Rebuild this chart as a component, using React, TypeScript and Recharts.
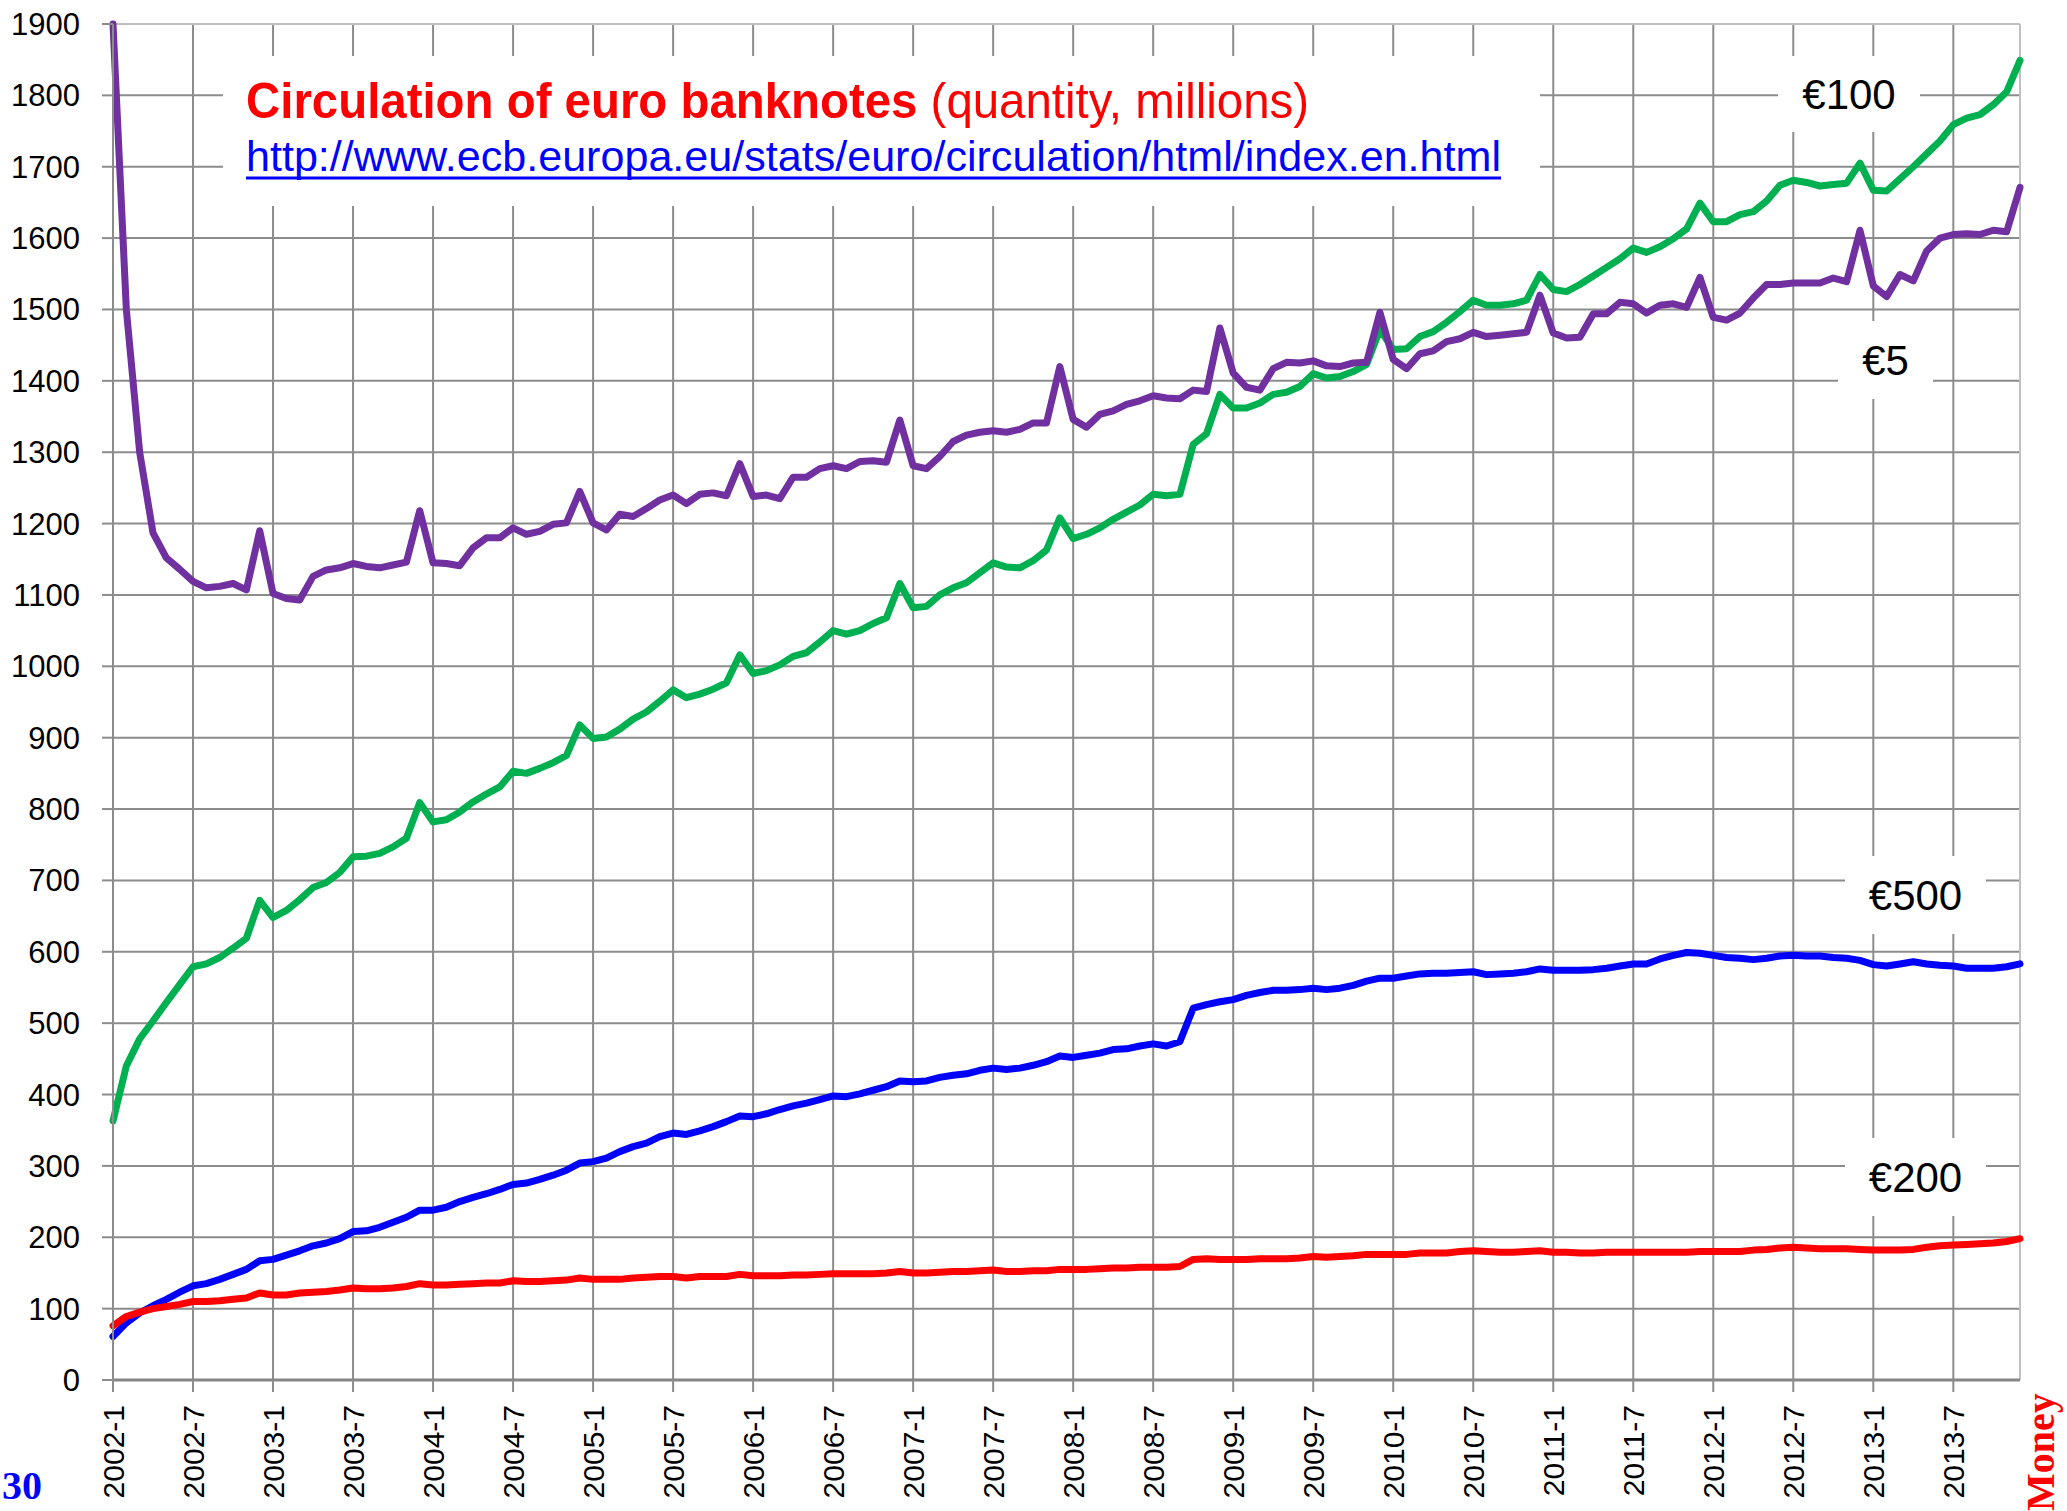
import React from 'react'
import { LineChart, Line, XAxis, YAxis, CartesianGrid, ReferenceLine } from 'recharts'

// monthly series, 2002-1 .. 2013-12 (millions of notes), one row per year
const eur5 = [
  1900, 1500, 1300, 1187, 1152, 1136, 1119, 1110, 1112, 1116, 1107, 1190,
  1102, 1095, 1093, 1126, 1135, 1138, 1144, 1140, 1138, 1142, 1146, 1218,
  1145, 1144, 1141, 1166, 1180, 1180, 1194, 1185, 1189, 1199, 1201, 1245,
  1201, 1191, 1213, 1210, 1221, 1233, 1240, 1228, 1241, 1243, 1239, 1284,
  1238, 1240, 1235, 1265, 1265, 1277, 1281, 1277, 1287, 1288, 1286, 1345,
  1281, 1277, 1294, 1315, 1324, 1328, 1330, 1328, 1332, 1341, 1341, 1420,
  1346, 1335, 1353, 1358, 1367, 1372, 1379, 1376, 1375, 1387, 1385, 1474,
  1411, 1391, 1387, 1417, 1426, 1425, 1428, 1421, 1420, 1425, 1426, 1496,
  1430, 1417, 1438, 1442, 1455, 1459, 1468, 1462, 1464, 1466, 1468, 1520,
  1467, 1460, 1461, 1494, 1494, 1510, 1508, 1495, 1506, 1508, 1503, 1545,
  1489, 1485, 1495, 1516, 1535, 1535, 1537, 1537, 1537, 1544, 1539, 1611,
  1533, 1518, 1549, 1540, 1582, 1600, 1605, 1606, 1605, 1611, 1609, 1671,
]

const eur100 = [
  363, 440, 478, 503, 529, 554, 579, 583, 592, 605, 619, 672,
  648, 658, 673, 690, 697, 711, 733, 734, 738, 747, 759, 809,
  782, 785, 796, 810, 821, 831, 853, 850, 857, 865, 875, 918,
  899, 901, 912, 926, 936, 951, 967, 956, 961, 968, 977, 1016,
  990, 994, 1002, 1014, 1019, 1034, 1050, 1045, 1050, 1060, 1068, 1116,
  1082, 1084, 1100, 1110, 1117, 1131, 1145, 1139, 1138, 1148, 1163, 1208,
  1179, 1185, 1194, 1206, 1216, 1226, 1241, 1239, 1241, 1311, 1326, 1381,
  1362, 1362, 1369, 1381, 1384, 1392, 1410, 1404, 1406, 1413, 1423, 1472,
  1444, 1445, 1462, 1469, 1482, 1497, 1513, 1506, 1506, 1508, 1513, 1549,
  1528, 1525, 1535, 1547, 1559, 1571, 1586, 1580, 1588, 1599, 1613, 1649,
  1623, 1623, 1633, 1637, 1652, 1674, 1681, 1678, 1673, 1675, 1677, 1705,
  1667, 1666, 1683, 1700, 1718, 1736, 1759, 1768, 1773, 1787, 1805, 1849,
]

const eur500 = [
  61, 80, 94, 104, 113, 123, 132, 135, 141, 148, 155, 167,
  169, 175, 181, 188, 192, 198, 208, 209, 214, 221, 228, 238,
  238, 242, 250, 256, 261, 267, 274, 276, 281, 287, 294, 304,
  306, 311, 320, 327, 332, 341, 346, 344, 349, 355, 362, 370,
  369, 373, 379, 384, 388, 393, 398, 397, 401, 406, 411, 419,
  418, 419, 424, 427, 429, 434, 437, 435, 437, 441, 446, 454,
  452, 455, 458, 463, 464, 468, 471, 468, 474, 521, 526, 530,
  533, 539, 543, 546, 546, 547, 549, 547, 549, 553, 559, 563,
  563, 566, 569, 570, 570, 571, 572, 568, 569, 570, 572, 576,
  574, 574, 574, 575, 577, 580, 583, 583, 590, 595, 599, 598,
  595, 592, 591, 589, 591, 594, 595, 594, 594, 592, 591, 588,
  582, 580, 583, 586, 583, 581, 580, 577, 577, 577, 579, 583,
]

const eur200 = [
  76, 89, 95, 100, 103, 106, 110, 110, 111, 113, 115, 122,
  119, 119, 122, 123, 124, 126, 129, 128, 128, 129, 131, 135,
  133, 133, 134, 135, 136, 136, 139, 138, 138, 139, 140, 143,
  141, 141, 141, 143, 144, 145, 145, 143, 145, 145, 145, 148,
  146, 146, 146, 147, 147, 148, 149, 149, 149, 149, 150, 152,
  150, 150, 151, 152, 152, 153, 154, 152, 152, 153, 153, 155,
  155, 155, 156, 157, 157, 158, 158, 158, 159, 169, 170, 169,
  169, 169, 170, 170, 170, 171, 173, 172, 173, 174, 176, 176,
  176, 176, 178, 178, 178, 180, 181, 180, 179, 179, 180, 181,
  179, 179, 178, 178, 179, 179, 179, 179, 179, 179, 179, 180,
  180, 180, 180, 182, 183, 185, 186, 185, 184, 184, 184, 183,
  182, 182, 182, 183, 186, 188, 189, 190, 191, 192, 194, 198,
]

const years = [2002, 2003, 2004, 2005, 2006, 2007, 2008, 2009, 2010, 2011, 2012, 2013]
const months = years.flatMap((y) => Array.from({ length: 12 }, (_, i) => `${y}-${i + 1}`))

const xTicks = [
  '2002-1', '2002-7', '2003-1', '2003-7', '2004-1', '2004-7', '2005-1', '2005-7',
  '2006-1', '2006-7', '2007-1', '2007-7', '2008-1', '2008-7', '2009-1', '2009-7',
  '2010-1', '2010-7', '2011-1', '2011-7', '2012-1', '2012-7', '2013-1', '2013-7',
]
const yTicks = [0, 100, 200, 300, 400, 500, 600, 700, 800, 900, 1000, 1100, 1200, 1300, 1400, 1500, 1600, 1700, 1800, 1900]

const data = months.map((month, i) => ({
  month,
  e5: eur5[i],
  e100: eur100[i],
  e500: eur500[i],
  e200: eur200[i],
}))

const FONT = '"Liberation Sans", Arial, sans-serif'
const SERIF = '"Liberation Serif", "Times New Roman", serif'
const GRID = '#8c8c8c'
const LW = 7

function XTick({ x, y, payload }: any) {
  return (
    <g transform={`translate(${x},${y + 13})`}>
      <text transform="rotate(-90)" textAnchor="end" dy="0.35em" fontSize={30} fontFamily={FONT} fill="#000">
        {payload.value}
      </text>
    </g>
  )
}

function SeriesLabel({ x, y, w, h, text }: { x: number; y: number; w: number; h: number; text: string }) {
  return (
    <g>
      <rect x={x} y={y} width={w} height={h} fill="#fff" />
      <text x={x + w / 2} y={y + h / 2} dy="0.35em" textAnchor="middle" fontSize={42} fontFamily={FONT} fill="#000">
        {text}
      </text>
    </g>
  )
}

export default function App() {
  return (
    <div style={{ position: 'absolute', left: 0, top: 0, width: 2067, height: 1511, background: '#fff', overflow: 'hidden' }}>
      <LineChart width={2067} height={1511} data={data} margin={{ top: 24, right: 47, left: 13, bottom: 11 }}>
        <CartesianGrid stroke={GRID} strokeWidth={2} />
        <XAxis
          dataKey="month"
          ticks={xTicks}
          interval={0}
          height={120}
          tickSize={12}
          tickMargin={0}
          tick={<XTick />}
          axisLine={{ stroke: '#868686', strokeWidth: 3 }}
          tickLine={{ stroke: GRID, strokeWidth: 2 }}
        />
        <YAxis
          type="number"
          domain={[0, 1900]}
          ticks={yTicks}
          interval={0}
          width={100}
          tickSize={11}
          tickMargin={22}
          tick={{ fontSize: 31, fontFamily: FONT, fill: '#000' }}
          axisLine={{ stroke: GRID, strokeWidth: 2 }}
          tickLine={{ stroke: GRID, strokeWidth: 2 }}
        />
        <ReferenceLine x={months[months.length - 1]} stroke="#c0c0c0" strokeWidth={2} />
        <ReferenceLine y={1900} stroke="#c0c0c0" strokeWidth={2} />
        <Line dataKey="e100" stroke="#00B050" strokeWidth={LW} dot={false} activeDot={false} strokeLinejoin="round" strokeLinecap="round" isAnimationActive={false} />
        <Line dataKey="e500" stroke="#0000FF" strokeWidth={LW} dot={false} activeDot={false} strokeLinejoin="round" strokeLinecap="round" isAnimationActive={false} />
        <Line dataKey="e200" stroke="#FF0000" strokeWidth={LW} dot={false} activeDot={false} strokeLinejoin="round" strokeLinecap="round" isAnimationActive={false} />
        <Line dataKey="e5" stroke="#7030A0" strokeWidth={LW} dot={false} activeDot={false} strokeLinejoin="round" strokeLinecap="round" isAnimationActive={false} />
      </LineChart>

      <svg width={2067} height={1511} style={{ position: 'absolute', left: 0, top: 0, pointerEvents: 'none' }}>
        <rect x={223} y={56} width={1317} height={150} fill="#fff" />
        <text x={246} y={118} fontSize={50} fontFamily={FONT} fill="#FF0000" textLength={1063} lengthAdjust="spacingAndGlyphs">
          <tspan fontWeight="bold">Circulation of euro banknotes </tspan>
          <tspan>(quantity, millions)</tspan>
        </text>
        <text x={246} y={171} fontSize={43} fontFamily={FONT} fill="#0000FF" textLength={1255} lengthAdjust="spacingAndGlyphs">
          http://www.ecb.europa.eu/stats/euro/circulation/html/index.en.html
        </text>
        <line x1={246} x2={1501} y1={178} y2={178} stroke="#0000FF" strokeWidth={3} />

        <SeriesLabel x={1778} y={56} w={142} h={76} text="€100" />
        <SeriesLabel x={1838} y={321} w={95} h={78} text="€5" />
        <SeriesLabel x={1845} y={856} w={141} h={78} text="€500" />
        <SeriesLabel x={1845} y={1138} w={141} h={78} text="€200" />

        <text x={2} y={1499} fontSize={40} fontFamily={SERIF} fontWeight="bold" fill="#0000FF">
          30
        </text>
        <g transform="translate(2054,1511)">
          <text transform="rotate(-90)" fontSize={40} fontFamily={SERIF} fontWeight="bold" fill="#FF0000">
            Money
          </text>
        </g>
      </svg>
    </div>
  )
}
